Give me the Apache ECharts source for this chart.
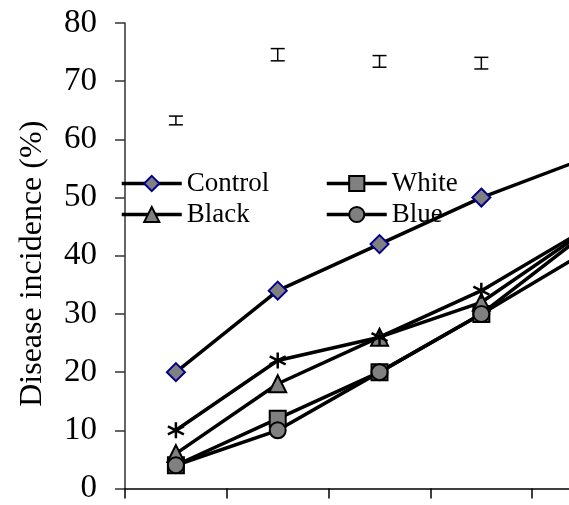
<!DOCTYPE html>
<html>
<head>
<meta charset="utf-8">
<script src="https://cdn.jsdelivr.net/npm/echarts@6/dist/echarts.min.js"></script>
<style>html,body{margin:0;padding:0;background:#fff}#c{width:569px;height:505px}</style>
</head>
<body>
<div id="c"></div>
<script>
var categories = [1, 2, 3, 4, 5];
var control = [20, 34, 42, 50, 56.6];
var white = [4, 12, 20, 30, 43.5];
var black = [6, 18, 26, 32, 44];
var blue = [4, 10, 20, 30, 40.4];
var star = [10, 22, 26, 34, 44.3];
var errLow = [62.5, 73.5, 72.4, 72.1];
var errHigh = [64, 75.6, 74.4, 74.1];
var yTicks = [0, 10, 20, 30, 40, 50, 60, 70, 80];
var xBoundaries = [0, 1, 2, 3, 4];

var FONT = '"Liberation Serif", "Times New Roman", serif';
var chart = echarts.init(document.getElementById('c'), null, {renderer: 'canvas'});

// category i is centred at i + 0.5 on a continuous axis (boundary ticks at integers)
function pts(arr) { return arr.map(function (v, i) { return [i + 0.5, v]; }); }

function lineSeries(name, data, symbol, size, border) {
  return {
    name: name, type: 'line', data: pts(data), symbol: symbol, symbolSize: size,
    showAllSymbol: true, clip: true,
    lineStyle: {color: '#000', width: 3.5},
    itemStyle: {color: '#808080', borderColor: border, borderWidth: 2},
    z: 3
  };
}

var errData = errLow.map(function (l, i) { return [i + 0.5, l, errHigh[i]]; });

var legendCommon = {
  orient: 'vertical', top: 170,
  itemWidth: 60, itemHeight: 19, itemGap: 4,
  textStyle: {fontFamily: FONT, fontSize: 27, color: '#000'},
  lineStyle: {width: 3.5, color: '#000'},
  padding: 0
};

var option = {
  animation: false,
  backgroundColor: '#fff',
  grid: {left: 125, right: 0, top: 23, height: 468.5, containLabel: false},
  legend: [
    Object.assign({data: ['Control', 'Black'], left: 120}, legendCommon),
    Object.assign({data: ['White', 'Blue'], left: 325}, legendCommon)
  ],
  xAxis: {
    type: 'value', min: 0, max: 4.361, interval: 1,
    axisLine: {lineStyle: {color: '#000', width: 1.5}},
    axisTick: {show: true, length: 10, inside: false, customValues: xBoundaries, lineStyle: {color: '#000', width: 1.5}},
    axisLabel: {show: false},
    splitLine: {show: false}
  },
  yAxis: {
    type: 'value', min: yTicks[0], max: yTicks[yTicks.length - 1], interval: 10,
    name: 'Disease incidence (%)', nameLocation: 'middle', nameGap: 76,
    nameTextStyle: {fontFamily: FONT, fontSize: 32, color: '#000', padding: [0, 16, 0, 0]},
    axisLine: {show: true, lineStyle: {color: '#333', width: 1.5}},
    axisTick: {show: true, length: 10, lineStyle: {color: '#333', width: 1.5}},
    axisLabel: {fontFamily: FONT, fontSize: 33, color: '#000', margin: 28},
    splitLine: {show: false}
  },
  series: [
    lineSeries('Control', control, 'diamond', 18, '#00008b'),
    lineSeries('White', white, 'rect', 16, '#000'),
    lineSeries('Black', black, 'triangle', 17, '#000'),
    lineSeries('Blue', blue, 'circle', 16, '#000'),
    {
      name: 'Star', type: 'line', data: pts(star), clip: true,
      symbol: 'path://M0,-10L0,10M-8.66,-5L8.66,5M-8.66,5L8.66,-5', symbolSize: 16,
      lineStyle: {color: '#000', width: 3.5},
      itemStyle: {color: 'none', borderColor: '#000', borderWidth: 2.5},
      z: 3
    },
    {
      name: 'err', type: 'custom', data: errData,
      renderItem: function (params, api) {
        var x = api.value(0);
        var lo = api.coord([x, api.value(1)]);
        var hi = api.coord([x, api.value(2)]);
        var w = 7;
        var st = {stroke: '#000', lineWidth: 1.5};
        return {
          type: 'group',
          children: [
            {type: 'line', shape: {x1: lo[0], y1: lo[1], x2: hi[0], y2: hi[1]}, style: st},
            {type: 'line', shape: {x1: lo[0] - w, y1: lo[1], x2: lo[0] + w, y2: lo[1]}, style: st},
            {type: 'line', shape: {x1: hi[0] - w, y1: hi[1], x2: hi[0] + w, y2: hi[1]}, style: st}
          ]
        };
      },
      z: 4
    }
  ]
};
chart.setOption(option);
</script>
</body>
</html>
